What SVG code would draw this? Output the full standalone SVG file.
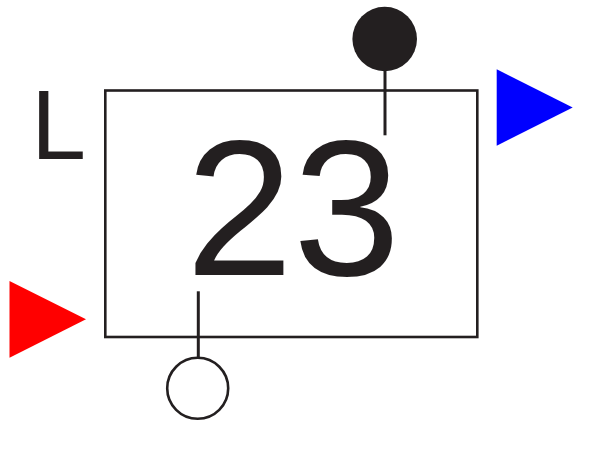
<svg xmlns="http://www.w3.org/2000/svg" width="596" height="459" viewBox="0 0 596 459">
<style>
.ln{stroke:#231f20;stroke-width:3;fill:none}
.txt{font-family:"Liberation Sans",Arial,sans-serif;fill:#231f20}
</style>
<rect width="596" height="459" fill="#ffffff"/>
<g id="block">
<rect x="105.3" y="90.5" width="372" height="246.5" fill="none" stroke="#231f20" stroke-width="2.6"/>
<text class="txt" x="293" y="275" font-size="193" text-anchor="middle">23</text>
</g>
<g id="label-L"><text class="txt" x="31" y="159" font-size="99">L</text></g>
<g id="input-red"><polygon points="9.5,281 86,319.3 9.5,357.7" fill="#ff0000"/></g>
<g id="output-blue"><polygon points="496.7,69.3 572.7,107.5 496.7,145.7" fill="#0000ff"/></g>
<g id="port-top"><circle cx="384.7" cy="39" r="32.3" fill="#231f20"/></g>
<g id="port-bottom"><circle cx="197.7" cy="388.3" r="30.5" fill="#ffffff" stroke="#231f20" stroke-width="2.6"/></g>
<g id="connectors">
<line class="ln" x1="385" y1="70" x2="385" y2="135.3"/>
<line class="ln" x1="198.3" y1="291.3" x2="198.3" y2="357.5"/>
</g>
</svg>
